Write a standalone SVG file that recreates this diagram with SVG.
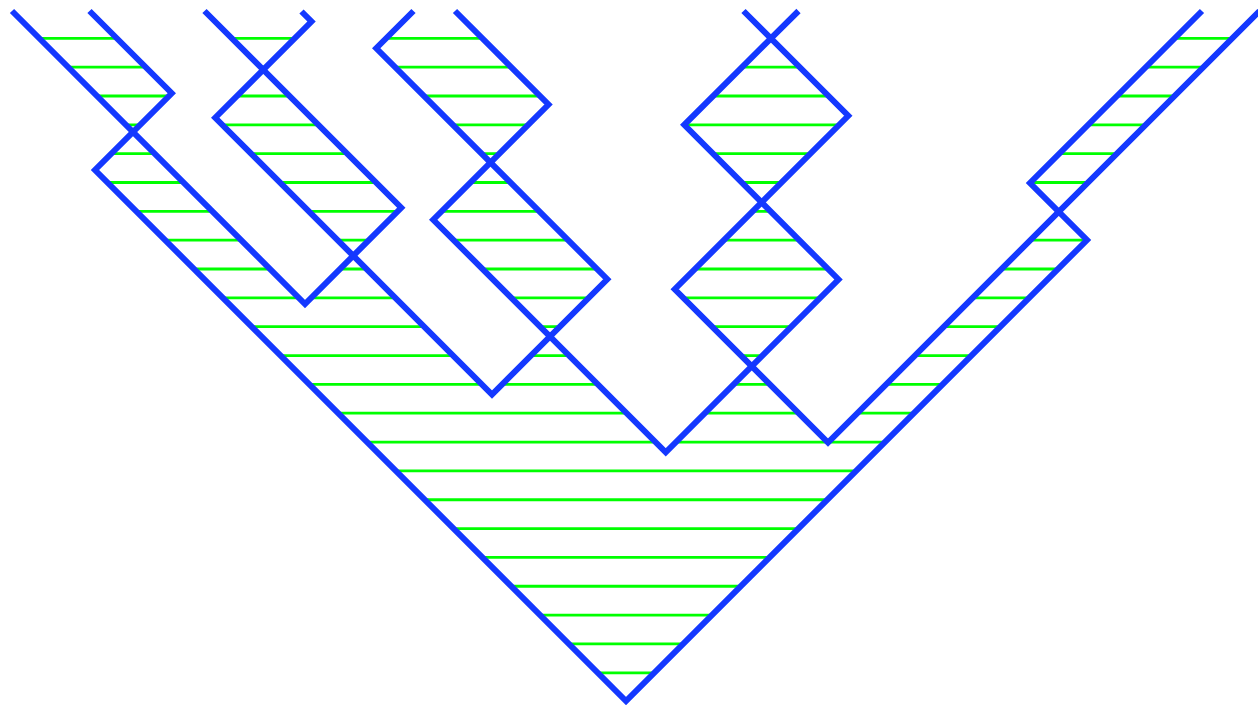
<svg xmlns="http://www.w3.org/2000/svg" width="1258" height="705" viewBox="0 0 1258 705">
<style>
.strand{fill:none;stroke:#1438ff;stroke-width:6;stroke-linejoin:miter;stroke-miterlimit:10;stroke-linecap:butt}
#hatching line{stroke:#00ff00;stroke-width:2.8}
</style>
<defs>
<clipPath id="shade">
<path clip-rule="evenodd" d="M12,11 L305,304 L401.25,207.75 L204.5,11 L204.5,-50 L12,-50 Z
M89.5,11 L171.75,93.25 L95,170 L626,701 L1087,240 L1030,183 L1202,11 L1202,-50 L89.5,-50 Z
M301.5,11.5 L311.5,21.5 L215.25,117.75 L492,394.5 L607.25,279.25 L376.25,48.25 L413.5,11 L413.5,-50 L301.5,-50 Z
M455,11 L548.5,104.5 L433.25,219.75 L665.75,452.25 L838.5,279.5 L684.25,124.75 L798.5,11 L798.5,-50 L455,-50 Z
M743.5,11 L848.25,115.75 L674.75,289.25 L828,442.5 L1259.5,11 L1259.5,-50 L743.5,-50 Z"/>
</clipPath>
</defs>
<rect width="1258" height="705" fill="#ffffff"/>
<g id="hatching" clip-path="url(#shade)">
<line x1="0" x2="1258" y1="38.3" y2="38.3"/>
<line x1="0" x2="1258" y1="67.14" y2="67.14"/>
<line x1="0" x2="1258" y1="95.98" y2="95.98"/>
<line x1="0" x2="1258" y1="124.82" y2="124.82"/>
<line x1="0" x2="1258" y1="153.66" y2="153.66"/>
<line x1="0" x2="1258" y1="182.5" y2="182.5"/>
<line x1="0" x2="1258" y1="211.34" y2="211.34"/>
<line x1="0" x2="1258" y1="240.18" y2="240.18"/>
<line x1="0" x2="1258" y1="269.02" y2="269.02"/>
<line x1="0" x2="1258" y1="297.86" y2="297.86"/>
<line x1="0" x2="1258" y1="326.7" y2="326.7"/>
<line x1="0" x2="1258" y1="355.54" y2="355.54"/>
<line x1="0" x2="1258" y1="384.38" y2="384.38"/>
<line x1="0" x2="1258" y1="413.22" y2="413.22"/>
<line x1="0" x2="1258" y1="442.06" y2="442.06"/>
<line x1="0" x2="1258" y1="470.9" y2="470.9"/>
<line x1="0" x2="1258" y1="499.74" y2="499.74"/>
<line x1="0" x2="1258" y1="528.58" y2="528.58"/>
<line x1="0" x2="1258" y1="557.42" y2="557.42"/>
<line x1="0" x2="1258" y1="586.26" y2="586.26"/>
<line x1="0" x2="1258" y1="615.1" y2="615.1"/>
<line x1="0" x2="1258" y1="643.94" y2="643.94"/>
<line x1="0" x2="1258" y1="672.78" y2="672.78"/>
</g>
<g id="connectors">
<g id="strand1"><polyline class="strand" points="12,11 305,304 401.25,207.75 204.5,11"/></g>
<g id="strand2"><polyline class="strand" points="89.5,11 171.75,93.25 95,170 626,701 1087,240 1030,183 1202,11"/></g>
<g id="strand3"><polyline class="strand" points="301.5,11.5 311.5,21.5 215.25,117.75 492,394.5 607.25,279.25 376.25,48.25 413.5,11"/></g>
<g id="strand4"><polyline class="strand" points="455,11 548.5,104.5 433.25,219.75 665.75,452.25 838.5,279.5 684.25,124.75 798.5,11"/></g>
<g id="strand5"><polyline class="strand" points="743.5,11 848.25,115.75 674.75,289.25 828,442.5 1259.5,11"/></g>
</g>
</svg>
